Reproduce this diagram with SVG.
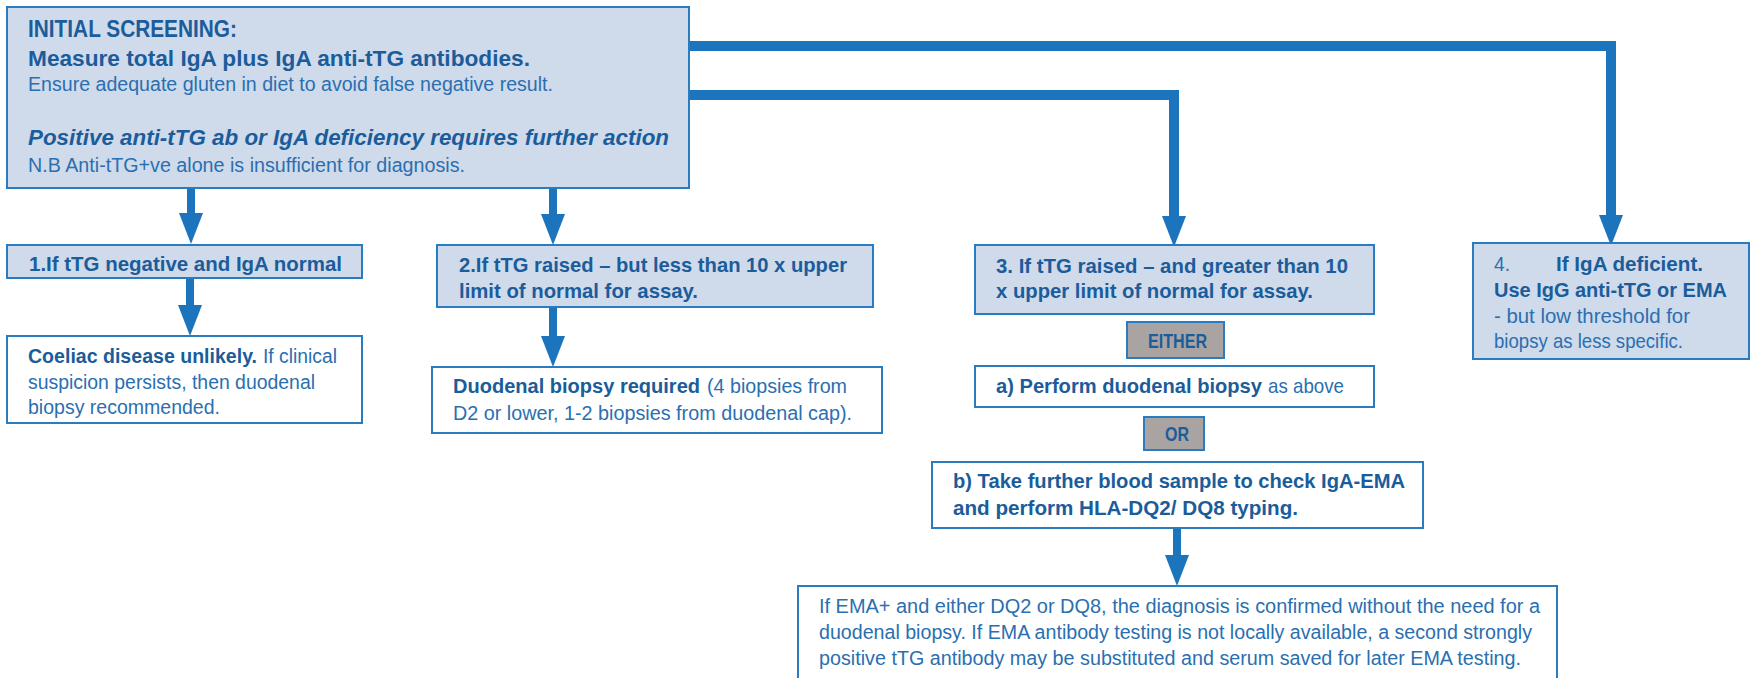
<svg xmlns="http://www.w3.org/2000/svg" width="1754" height="678" viewBox="0 0 1754 678">
<style>
.bx{fill:#cfdaeb;stroke:#2a7cc0;stroke-width:2}
.wb{fill:#ffffff;stroke:#2a7cc0;stroke-width:2}
.gb{fill:#a9a4a1;stroke:#2a7cc0;stroke-width:2}
text{font-family:"Liberation Sans",Arial,sans-serif;}
.b{font-weight:bold;fill:#1b5c9b}
.r{font-weight:normal;fill:#2a6fb0}
.bi{font-weight:bold;font-style:italic;fill:#1b5c9b}
.c{fill:none;stroke:#1c75bc;stroke-linejoin:miter;stroke-linecap:butt}
</style>
<defs>
<marker id="ah" markerUnits="userSpaceOnUse" markerWidth="31" markerHeight="24" refX="1" refY="12" orient="auto" viewBox="0 0 31 24">
<path d="M0,0 L31,12 L0,24 z" fill="#1c75bc"/>
</marker>
</defs>

<g id="connectors">
<polyline class="c" stroke-width="10" points="688,46 1611,46 1611,216" marker-end="url(#ah)"/>
<polyline class="c" stroke-width="10" points="688,95 1174,95 1174,217" marker-end="url(#ah)"/>
<line class="c" stroke-width="8" x1="191" y1="189" x2="191" y2="214" marker-end="url(#ah)"/>
<line class="c" stroke-width="8" x1="190" y1="278" x2="190" y2="306" marker-end="url(#ah)"/>
<line class="c" stroke-width="8" x1="553" y1="189" x2="553" y2="215" marker-end="url(#ah)"/>
<line class="c" stroke-width="8" x1="553" y1="308" x2="553" y2="337" marker-end="url(#ah)"/>
<line class="c" stroke-width="8" x1="1177" y1="528" x2="1177" y2="556" marker-end="url(#ah)"/>
</g>

<g id="initial">
<rect class="bx" x="7" y="7" width="682" height="181"/>
<text class="b" x="28" y="37" font-size="24" textLength="209" lengthAdjust="spacingAndGlyphs">INITIAL SCREENING:</text>
<text class="b" x="28" y="66" font-size="22" textLength="502" lengthAdjust="spacingAndGlyphs">Measure total IgA plus IgA anti-tTG antibodies.</text>
<text class="r" x="28" y="91" font-size="19.5" textLength="525" lengthAdjust="spacingAndGlyphs">Ensure adequate gluten in diet to avoid false negative result.</text>
<text class="bi" x="28" y="145" font-size="22" textLength="641" lengthAdjust="spacingAndGlyphs">Positive anti-tTG ab or IgA deficiency requires further action</text>
<text class="r" x="28" y="172" font-size="20" textLength="437" lengthAdjust="spacingAndGlyphs">N.B Anti-tTG+ve alone is insufficient for diagnosis.</text>
</g>

<g id="box1">
<rect class="bx" x="7" y="245" width="355" height="33"/>
<text class="b" x="29" y="271" font-size="21" textLength="313" lengthAdjust="spacingAndGlyphs">1.If tTG negative and IgA normal</text>
</g>

<g id="coeliac">
<rect class="wb" x="7" y="336" width="355" height="87"/>
<text class="b" x="28" y="363" font-size="20" textLength="229" lengthAdjust="spacingAndGlyphs">Coeliac disease unlikely.</text>
<text class="r" x="263" y="363" font-size="20" textLength="74" lengthAdjust="spacingAndGlyphs">If clinical</text>
<text class="r" x="28" y="389" font-size="20" textLength="287" lengthAdjust="spacingAndGlyphs">suspicion persists, then duodenal</text>
<text class="r" x="28" y="414" font-size="20" textLength="192" lengthAdjust="spacingAndGlyphs">biopsy recommended.</text>
</g>

<g id="box2">
<rect class="bx" x="437" y="245" width="436" height="62"/>
<text class="b" x="459" y="272" font-size="21" textLength="388" lengthAdjust="spacingAndGlyphs">2.If tTG raised – but less than 10 x upper</text>
<text class="b" x="459" y="298" font-size="21" textLength="239" lengthAdjust="spacingAndGlyphs">limit of normal for assay.</text>
</g>

<g id="duodenal">
<rect class="wb" x="432" y="367" width="450" height="66"/>
<text class="b" x="453" y="393" font-size="20" textLength="247" lengthAdjust="spacingAndGlyphs">Duodenal biopsy required</text>
<text class="r" x="707" y="393" font-size="20" textLength="140" lengthAdjust="spacingAndGlyphs">(4 biopsies from</text>
<text class="r" x="453" y="420" font-size="20" textLength="399" lengthAdjust="spacingAndGlyphs">D2 or lower, 1-2 biopsies from duodenal cap).</text>
</g>

<g id="box3">
<rect class="bx" x="975" y="245" width="399" height="69"/>
<text class="b" x="996" y="273" font-size="21" textLength="352" lengthAdjust="spacingAndGlyphs">3. If tTG raised – and greater than 10</text>
<text class="b" x="996" y="298" font-size="21" textLength="317" lengthAdjust="spacingAndGlyphs">x upper limit of normal for assay.</text>
</g>

<g id="either">
<rect class="gb" x="1127" y="322" width="97" height="36"/>
<text class="b" x="1148" y="348" font-size="20" textLength="59" lengthAdjust="spacingAndGlyphs">EITHER</text>
</g>

<g id="optionA">
<rect class="wb" x="975" y="366" width="399" height="41"/>
<text class="b" x="996" y="393" font-size="21" textLength="266" lengthAdjust="spacingAndGlyphs">a) Perform duodenal biopsy</text>
<text class="r" x="1268" y="393" font-size="21" textLength="76" lengthAdjust="spacingAndGlyphs">as above</text>
</g>

<g id="or">
<rect class="gb" x="1144" y="417" width="60" height="33"/>
<text class="b" x="1165" y="441" font-size="20" textLength="24" lengthAdjust="spacingAndGlyphs">OR</text>
</g>

<g id="optionB">
<rect class="wb" x="932" y="462" width="491" height="66"/>
<text class="b" x="953" y="488" font-size="21" textLength="452" lengthAdjust="spacingAndGlyphs">b) Take further blood sample to check IgA-EMA</text>
<text class="b" x="953" y="515" font-size="21" textLength="345" lengthAdjust="spacingAndGlyphs">and perform HLA-DQ2/ DQ8 typing.</text>
</g>

<g id="result">
<rect class="wb" x="798" y="586" width="759" height="96"/>
<text class="r" x="819" y="613" font-size="20" textLength="721" lengthAdjust="spacingAndGlyphs">If EMA+ and either DQ2 or DQ8, the diagnosis is confirmed without the need for a</text>
<text class="r" x="819" y="639" font-size="20" textLength="713" lengthAdjust="spacingAndGlyphs">duodenal biopsy. If EMA antibody testing is not locally available, a second strongly</text>
<text class="r" x="819" y="665" font-size="20" textLength="702" lengthAdjust="spacingAndGlyphs">positive tTG antibody may be substituted and serum saved for later EMA testing.</text>
</g>

<g id="box4">
<rect class="bx" x="1473" y="243" width="276" height="116"/>
<text class="r" x="1494" y="271" font-size="21" textLength="16" lengthAdjust="spacingAndGlyphs">4.</text>
<text class="b" x="1556" y="271" font-size="21" textLength="147" lengthAdjust="spacingAndGlyphs">If IgA deficient.</text>
<text class="b" x="1494" y="297" font-size="21" textLength="233" lengthAdjust="spacingAndGlyphs">Use IgG anti-tTG or EMA</text>
<text class="r" x="1494" y="323" font-size="21" textLength="196" lengthAdjust="spacingAndGlyphs">- but low threshold for</text>
<text class="r" x="1494" y="348" font-size="21" textLength="189" lengthAdjust="spacingAndGlyphs">biopsy as less specific.</text>
</g>
</svg>
